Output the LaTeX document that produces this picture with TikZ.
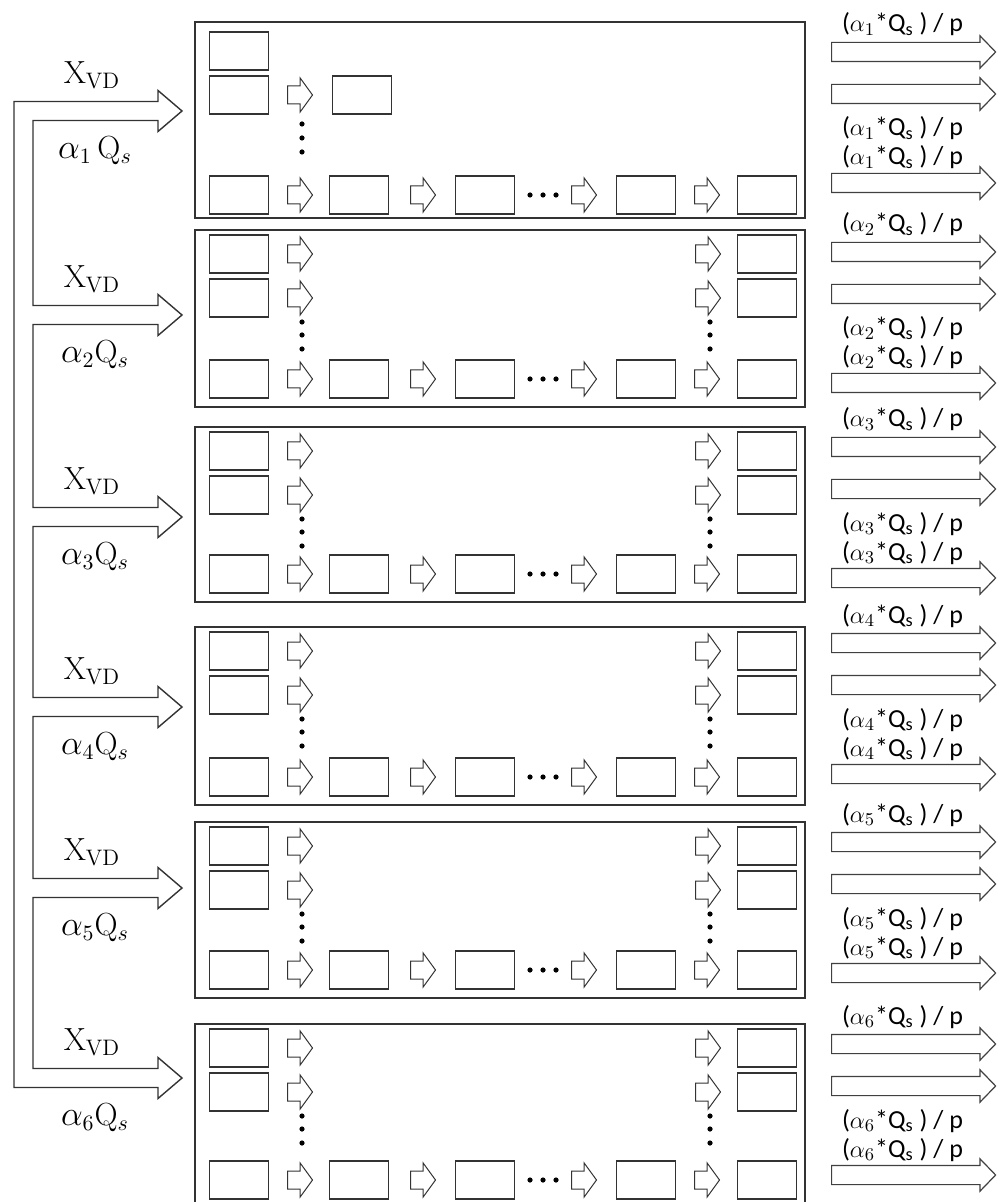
\documentclass[tikz,border=0pt]{standalone}
\usepackage{fontspec}
\newfontfamily\outfont{Carlito}
\usetikzlibrary{shapes.arrows}

\begin{document}
\begin{tikzpicture}[x=0.5pt, y=-0.5pt,
    box/.style={draw=black!80, line width=0.75pt, minimum width=29.5pt, minimum height=19pt, inner sep=0pt},
    frame/.style={draw=black!80, line width=0.8pt},
    stagearr/.style={single arrow, draw=black!80, line width=0.5pt,
      inner xsep=0pt, inner ysep=4.25pt, minimum height=12.5pt,
      single arrow head extend=4pt, single arrow tip angle=108, anchor=tail},
    outarr/.style={single arrow, draw=black!75, line width=0.6pt,
      inner xsep=0pt, inner ysep=4.5pt, minimum height=82pt,
      single arrow head extend=3.25pt, single arrow tip angle=92, anchor=tail},
    dot/.style={circle, fill, inner sep=0pt, minimum size=2.6pt},
    inlab/.style={font=\fontsize{16}{19}\selectfont, anchor=base},
    outlab/.style={font=\outfont\fontsize{13}{15}\selectfont, anchor=base west}]
  \useasboundingbox (0,0) rectangle (1000,1202);
  \clip (0,0) rectangle (1000,1202);

  % feed manifold on the left
  \draw[draw=black!80, line width=0.7pt] (14,101.5)
    foreach \a in {111,315,517,707,888,1078} {
      -- (33,\a-9.5) -- (158,\a-9.5) -- (158,\a-20.5) -- (182,\a)
      -- (158,\a+20.5) -- (158,\a+9.5) -- (33,\a+9.5) }
    -- (14,1087.5) -- cycle;
  \foreach \n/\a in {1/111,2/315,3/517,4/707,5/888,6/1078} {
    \node[inlab] (xvd\n) at (92,\a-27.5) {$\mathrm{X}_{\mathrm{VD}}$};
    \node[inlab] (alf\n) at (95,\a+47.5) {$\alpha_{\n}\ifnum\n=1\,\fi\mathrm{Q}_s$};
  }

  % stage 1 (top part)
  \node[box] (b1-l1) at (239,51) {};
  \node[box] (b1-l2) at (239,95) {};
  \node[stagearr] (b1-t2) at (287,95) {};
  \node[box] (b1-n2) at (362,95) {};
  \foreach \k/\y in {1/124,2/138,3/152}
    \node[dot] (b1-v\k) at (302,\y) {};

  % stages 2-6 (top part)
  \foreach \n/\t in {2/230,3/427,4/627,5/822,6/1024} {
    \foreach \j/\d in {1/24,2/68} {
      \node[box] (b\n-l\j) at (239,\t+\d) {};
      \node[stagearr] (b\n-t\j) at (287,\t+\d) {};
      \node[stagearr] (b\n-u\j) at (695,\t+\d) {};
      \node[box] (b\n-r\j) at (767,\t+\d) {};
    }
    \foreach \k/\d in {1/92,2/105,3/119} {
      \node[dot] (b\n-v\k) at (302,\t+\d) {};
      \node[dot] (b\n-w\k) at (710,\t+\d) {};
    }
  }

  % frames and bottom rows
  \foreach \n/\t/\b/\r in {1/22/218/195,2/230/407/379,3/427/602/574,
      4/627/805/777,5/822/998/970,6/1024/1208/1180} {
    \draw[frame] (195,\t) rectangle (805,\b);
    \foreach \k/\x in {A/239,B/359,C/485,D/646,E/767}
      \node[box] (b\n-\k) at (\x,\r) {};
    \foreach \k/\x in {1/287,2/410,3/571,4/694}
      \node[stagearr] (b\n-s\k) at (\x,\r) {};
    \foreach \k/\x in {1/530,2/543,3/556}
      \node[dot] (b\n-h\k) at (\x,\r) {};
  }

  % outputs on the right
  \foreach \n/\r in {1/52,2/252,3/447,4/643,5/842,6/1044} {
    \node[outarr] (out\n-1) at (831,\r) {};
    \node[outarr] (out\n-2) at (831,\r+42) {};
    \node[outarr] (out\n-3) at (831,\r+131) {};
    \node[outlab] (q\n-1) at (835,\r-20) {($\alpha_{\n}$*Q\textsubscript{s} ) / p};
    \node[outlab] (q\n-2) at (835,\r+84) {($\alpha_{\n}$*Q\textsubscript{s} ) / p};
    \node[outlab] (q\n-3) at (835,\r+113) {($\alpha_{\n}$*Q\textsubscript{s} ) / p};
  }
\end{tikzpicture}
\end{document}
